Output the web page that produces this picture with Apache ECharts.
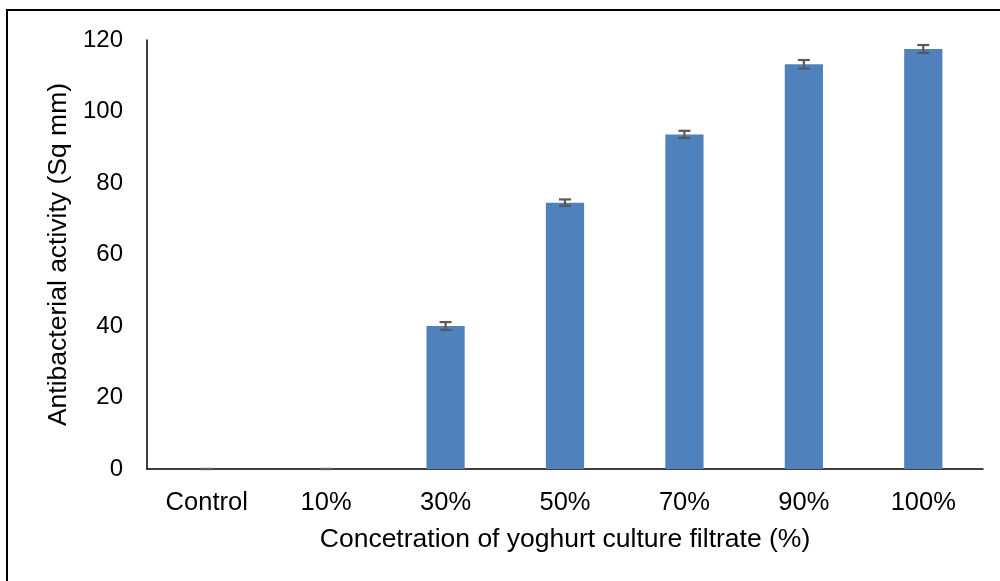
<!DOCTYPE html>
<html>
<head>
<meta charset="utf-8">
<script src="https://cdn.jsdelivr.net/npm/echarts@6/dist/echarts.min.js"></script>
<style>
html,body{margin:0;padding:0;background:#fff;}
#chart{width:1000px;height:581px;}
</style>
</head>
<body>
<div id="chart"></div>
<script>
const categories = ['Control', '10%', '30%', '50%', '70%', '90%', '100%'];
const values = [0, 0, 40.0, 74.5, 93.6, 113.2, 117.5];
const errors = [0, 0, 1.1, 0.9, 1.0, 1.2, 1.1];
const yTicks = [0, 20, 40, 60, 80, 100, 120];

const chart = echarts.init(document.getElementById('chart'));
const font = 'Liberation Sans, Arial, sans-serif';

chart.setOption({
  animation: false,
  backgroundColor: '#fff',
  graphic: [{
    type: 'rect',
    shape: { x: 7, y: 10, width: 1100, height: 700 },
    style: { fill: 'none', stroke: '#000', lineWidth: 2 },
    z: 100
  }],
  grid: { left: 147, right: 17, top: 40, bottom: 112 },
  xAxis: {
    type: 'category',
    data: categories,
    name: 'Concetration of yoghurt culture filtrate (%)',
    nameLocation: 'middle',
    nameGap: 57,
    nameTextStyle: { fontFamily: font, fontSize: 26.5, color: '#000' },
    axisLine: { lineStyle: { color: '#000', width: 1.5 } },
    axisTick: { show: false },
    axisLabel: { fontFamily: font, fontSize: 25.5, color: '#000', margin: 21 }
  },
  yAxis: {
    type: 'value',
    min: yTicks[0],
    max: yTicks[yTicks.length - 1],
    interval: 20,
    name: 'Antibacterial activity (Sq mm)',
    nameLocation: 'middle',
    nameGap: 75,
    nameTextStyle: { fontFamily: font, fontSize: 26.5, color: '#000' },
    axisLine: { show: true, lineStyle: { color: '#000', width: 1.5 } },
    axisTick: { show: false },
    splitLine: { show: false },
    axisLabel: { fontFamily: font, fontSize: 24, color: '#000', margin: 24 }
  },
  series: [{
    type: 'bar',
    data: values,
    barWidth: '32%',
    itemStyle: { color: '#4F81BD' }
  }, {
    type: 'custom',
    data: values.map((v, i) => [i, v - errors[i], v + errors[i]]),
    renderItem: function (params, api) {
      const x = api.value(0);
      const lo = api.coord([x, api.value(1)]);
      const hi = api.coord([x, api.value(2)]);
      const hw = 6;
      const st = { stroke: '#595959', lineWidth: 2.2, fill: 'none' };
      return {
        type: 'group',
        children: [
          { type: 'line', shape: { x1: lo[0], y1: lo[1], x2: hi[0], y2: hi[1] }, style: st },
          { type: 'line', shape: { x1: lo[0] - hw, y1: lo[1], x2: lo[0] + hw, y2: lo[1] }, style: st },
          { type: 'line', shape: { x1: hi[0] - hw, y1: hi[1], x2: hi[0] + hw, y2: hi[1] }, style: st }
        ]
      };
    },
    z: 10
  }]
});
</script>
</body>
</html>
